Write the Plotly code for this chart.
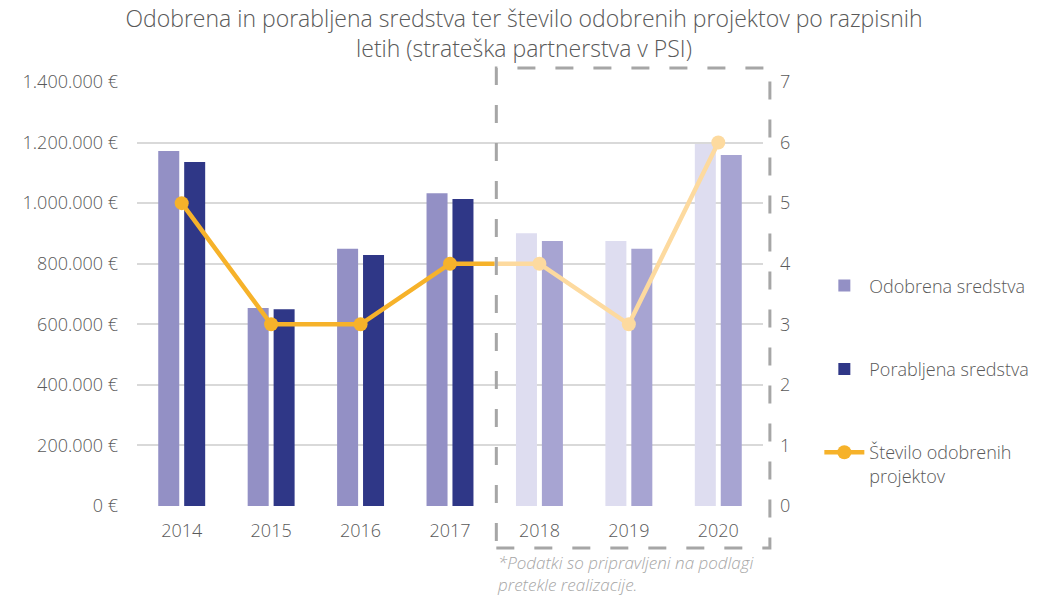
import plotly.graph_objects as go

years = [2014, 2015, 2016, 2017, 2018, 2019, 2020]
odobrena = [1172000, 654000, 849000, 1033000, 901000, 875000, 1195000]
porabljena = [1136000, 650000, 829000, 1014000, 875000, 849000, 1159000]
projekti = [5, 3, 3, 4, 4, 3, 6]
left_ticks = [0, 200000, 400000, 600000, 800000, 1000000, 1200000, 1400000]
left_labels = ["0 €", "200.000 €", "400.000 €", "600.000 €", "800.000 €",
               "1.000.000 €", "1.200.000 €", "1.400.000 €"]
right_ticks = [0, 1, 2, 3, 4, 5, 6, 7]

n_real = 4  # 2014-2017 realized; 2018-2020 forecast (lighter)
odo_colors = ["#9390C5"] * n_real + ["#DEDDF0"] * (len(years) - n_real)
por_colors = ["#2F3787"] * n_real + ["#A7A4D2"] * (len(years) - n_real)

FONT = "Open Sans"
W = 300
GREY = "#595959"

fig = go.Figure()
fig.add_trace(go.Bar(x=years, y=odobrena, name="Odobrena sredstva",
                     marker=dict(color=odo_colors, line=dict(width=0)),
                     legendgroup="a"))
fig.add_trace(go.Bar(x=years, y=porabljena, name="Porabljena sredstva",
                     marker=dict(color=por_colors, line=dict(width=0)),
                     legendgroup="b"))

split = 2017.5
# dark part of the line (clipped to the realized period)
fig.add_trace(go.Scatter(x=years[:5], y=projekti[:5], name="Število odobrenih<br>projektov",
                         mode="lines+markers", xaxis="x3", yaxis="y3",
                         line=dict(color="#F6B22A", width=4.5),
                         marker=dict(size=14, color="#F6B22A"),
                         legendgroup="c"))
# light part of the line (clipped to the forecast period)
fig.add_trace(go.Scatter(x=years[3:], y=projekti[3:], showlegend=False,
                         mode="lines+markers", xaxis="x4", yaxis="y4",
                         line=dict(color="#FDDA9F", width=4.5),
                         marker=dict(size=14, color="#FDDA9F")))

# invisible trace to activate right axis
fig.add_trace(go.Scatter(x=[years[0]], y=[0], yaxis="y2", mode="markers",
                         marker=dict(opacity=0), showlegend=False, hoverinfo="skip"))

xr = [2013.5, 2020.5]
f = (split - xr[0]) / (xr[1] - xr[0])

tf = dict(family=FONT, size=18, color=GREY, weight=W)

fig.update_layout(
    width=1048, height=599,
    margin=dict(l=137, r=285, t=82, b=93),
    paper_bgcolor="white", plot_bgcolor="rgba(0,0,0,0)",
    font=dict(family=FONT, color=GREY, size=18, weight=W),
    title=dict(text="Odobrena in porabljena sredstva ter število odobrenih projektov po razpisnih<br>letih (strateška partnerstva v PSI)",
               x=0.5, xanchor="center", y=0.955, yanchor="top",
               font=dict(family=FONT, size=23, color=GREY, weight=W)),
    barmode="group", bargap=0.42, bargroupgap=0.19,
    xaxis=dict(range=xr, tickvals=years, ticktext=[str(y) for y in years],
               showgrid=False, zeroline=False, showline=False, ticks="",
               ticklabelstandoff=12, tickfont=tf),
    yaxis=dict(range=[0, 1400000], tickvals=left_ticks, ticktext=left_labels,
               gridcolor="#D9D9D9", gridwidth=1.5, zeroline=False, showline=False,
               ticks="", ticklabelstandoff=18, tickfont=tf),
    yaxis2=dict(range=[0, 7], tickvals=right_ticks, overlaying="y", side="right",
                showgrid=False, zeroline=False, showline=False, ticks="",
                ticklabelstandoff=16, tickfont=tf),
    xaxis3=dict(domain=[0, f], range=[xr[0], split], anchor="y3", visible=False),
    yaxis3=dict(domain=[0, 1], range=[0, 7], anchor="x3", visible=False),
    xaxis4=dict(domain=[f, 1], range=[split, xr[1]], anchor="y4", visible=False),
    yaxis4=dict(domain=[0, 1], range=[0, 7], anchor="x4", visible=False),
    legend=dict(x=1.09, xanchor="left", y=0.563, yanchor="top",
                traceorder="grouped", tracegroupgap=57, valign="top",
                itemwidth=40,
                font=dict(family=FONT, size=18, color=GREY, weight=W),
                bgcolor="rgba(0,0,0,0)"),
    showlegend=True,
)

fig.add_shape(type="rect", xref="paper", yref="paper",
              x0=0.574, x1=1.011, y0=-0.099, y1=1.033,
              line=dict(color="#A6A6A6", width=3, dash="18px,20px"),
              fillcolor="rgba(0,0,0,0)", layer="above")

fig.add_annotation(text="<i>*Podatki so pripravljeni na podlagi<br>pretekle realizacije.</i>",
                   xref="paper", yref="paper", x=0.572, y=-0.102,
                   xanchor="left", yanchor="top", align="left", showarrow=False,
                   font=dict(family=FONT, size=17, color="#A6A6A6", weight=W))

fig.write_html("out.html", config={"displayModeBar": False},
               post_script="document.body.style.margin='0';")
